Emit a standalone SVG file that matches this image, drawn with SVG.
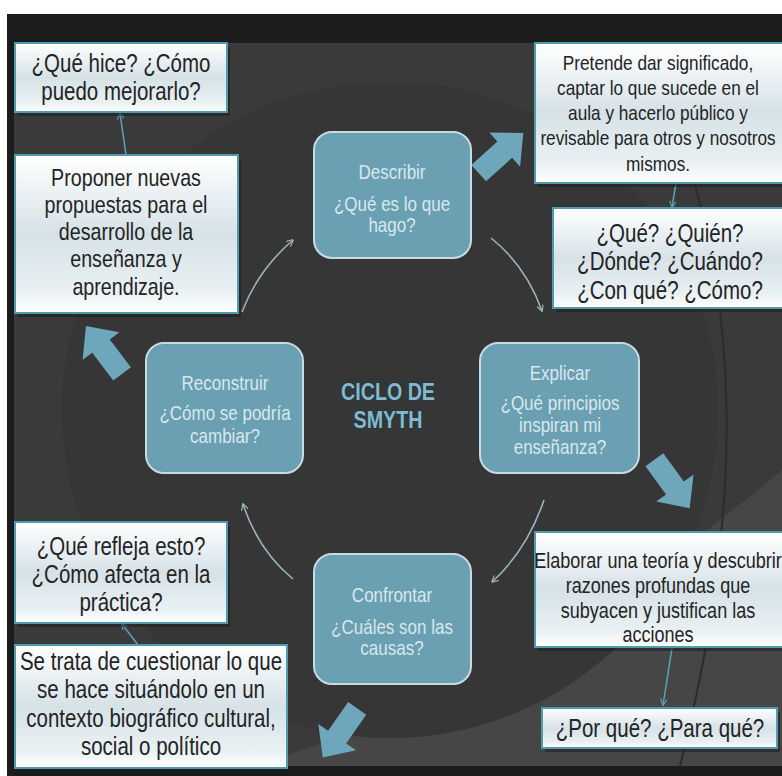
<svg xmlns="http://www.w3.org/2000/svg" width="782" height="776" viewBox="0 0 782 776">
<defs>
<linearGradient id="boxg" x1="0" y1="0" x2="0" y2="1">
<stop offset="0" stop-color="#ffffff"/>
<stop offset="0.5" stop-color="#d6e2e7"/>
<stop offset="0.85" stop-color="#e8f0f2"/>
<stop offset="1" stop-color="#ffffff"/>
</linearGradient>
<path id="blk" d="M -30 -11 L 5 -11 L 5 -23 L 30 0 L 5 23 L 5 11 L -30 11 Z"/>
<marker id="ah" viewBox="0 0 10 10" refX="9" refY="5" markerWidth="7" markerHeight="7" orient="auto" markerUnits="userSpaceOnUse">
<path d="M 0 0 L 10 5 L 0 10" fill="none" stroke="#9db3bb" stroke-width="1.6"/>
</marker>
<marker id="ah2" viewBox="0 0 10 10" refX="9" refY="5" markerWidth="7" markerHeight="7" orient="auto" markerUnits="userSpaceOnUse">
<path d="M 0 0 L 10 5 L 0 10" fill="none" stroke="#5a9fb4" stroke-width="1.6"/>
</marker>
</defs>
<style>
.box{fill:url(#boxg);stroke:#4f9cae;stroke-width:2}
.shadow{fill:#1f1f1f;opacity:0.6}
.bt{font-family:"Liberation Sans",Arial,sans-serif;fill:#242424;text-anchor:middle}
.node{fill:#6b9fb2;stroke:#c6dbe2;stroke-width:2}
.nt{font-family:"Liberation Sans",Arial,sans-serif;fill:#d8e8ee;text-anchor:middle;font-size:20px}
.cyc{fill:none;stroke:#9db3bb;stroke-width:1.6;marker-end:url(#ah)}
.lnk{fill:none;stroke:#5a9fb4;stroke-width:1.6;marker-end:url(#ah2)}
.big{fill:#6ea7bc}
.ttl{font-family:"Liberation Sans",Arial,sans-serif;font-weight:bold;font-size:24px;fill:#86b8ca;stroke:#1f3a44;stroke-width:2;paint-order:stroke fill;text-anchor:middle}
</style>
<rect x="0" y="0" width="782" height="776" fill="#ffffff"/>
<rect x="7" y="14" width="775" height="762" fill="#1c1c1c"/>
<rect x="14" y="43" width="768" height="723" fill="#3a3a3a"/>
<path d="M 250 766 Q 520 690 782 470 L 782 766 Z" fill="#464646"/>
<circle cx="390" cy="410" r="328" fill="#363636"/>
<rect x="14" y="14" width="768" height="29" fill="#1c1c1c"/>
<path d="M 695 185 Q 765 430 680 766" fill="none" stroke="#2c2c2c" stroke-width="2"/>

<g id="connectors">
<path class="cyc" d="M 242 312 Q 258 270 293 240"/>
<path class="cyc" d="M 491 238 Q 526 266 542 311"/>
<path class="cyc" d="M 544 500 Q 527 550 492 582"/>
<path class="cyc" d="M 293 579 Q 258 550 243 504"/>
<path class="lnk" d="M 676 183 L 672 207"/>
<path class="lnk" d="M 672 648 L 663 705"/>
<path class="lnk" d="M 126 155 L 120 113"/>
<path class="lnk" d="M 138 645 L 122 624"/>
<use href="#blk" class="big" transform="translate(501,153) rotate(-42)"/>
<use href="#blk" class="big" transform="translate(104,350) rotate(-127)"/>
<use href="#blk" class="big" transform="translate(672,484) rotate(54)"/>
<use href="#blk" class="big" transform="translate(340,733) rotate(125)"/>
</g>

<g id="box1">
<rect class="shadow" x="18" y="47" width="212" height="69"/>
<rect class="box" x="15" y="43" width="212" height="69"/>
<g transform="translate(121 0) scale(0.82 1)">
<text class="bt" font-size="25" x="0" y="72">¿Qué hice? ¿Cómo</text>
<text class="bt" font-size="25" x="0" y="100">puedo mejorarlo?</text>
</g>
</g>
<g id="box2">
<rect class="shadow" x="538" y="47" width="247" height="140"/>
<rect class="box" x="535" y="43" width="249" height="140"/>
<g transform="translate(658 0) scale(0.82 1)">
<text class="bt" font-size="21" x="0" y="70">Pretende dar significado,</text>
<text class="bt" font-size="21" x="0" y="95">captar lo que sucede en el</text>
<text class="bt" font-size="21" x="0" y="120">aula y hacerlo público y</text>
<text class="bt" font-size="21" x="0" y="145">revisable para otros y nosotros</text>
<text class="bt" font-size="21" x="0" y="171">mismos.</text>
</g>
</g>
<g id="box3">
<rect class="shadow" x="18" y="159" width="223" height="158"/>
<rect class="box" x="15" y="155" width="223" height="158"/>
<g transform="translate(126 0) scale(0.82 1)">
<text class="bt" font-size="24" x="0" y="186">Proponer nuevas</text>
<text class="bt" font-size="24" x="0" y="213">propuestas para el</text>
<text class="bt" font-size="24" x="0" y="240">desarrollo de la</text>
<text class="bt" font-size="24" x="0" y="267">enseñanza y</text>
<text class="bt" font-size="24" x="0" y="295">aprendizaje.</text>
</g>
</g>
<g id="box4">
<rect class="shadow" x="556" y="212" width="229" height="100"/>
<rect class="box" x="553" y="208" width="231" height="100"/>
<g transform="translate(670 0) scale(0.82 1)">
<text class="bt" font-size="25" x="0" y="242">¿Qué? ¿Quién?</text>
<text class="bt" font-size="25" x="0" y="270">¿Dónde? ¿Cuándo?</text>
<text class="bt" font-size="25" x="0" y="299">¿Con qué? ¿Cómo?</text>
</g>
</g>
<g id="box5">
<rect class="shadow" x="18" y="526" width="212" height="101"/>
<rect class="box" x="15" y="522" width="212" height="101"/>
<g transform="translate(121 0) scale(0.82 1)">
<text class="bt" font-size="25" x="0" y="555">¿Qué refleja esto?</text>
<text class="bt" font-size="25" x="0" y="583">¿Cómo afecta en la</text>
<text class="bt" font-size="25" x="0" y="611">práctica?</text>
</g>
</g>
<g id="box6">
<rect class="shadow" x="538" y="536" width="247" height="115"/>
<rect class="box" x="535" y="532" width="249" height="115"/>
<g transform="translate(658 0) scale(0.82 1)">
<text class="bt" font-size="22" x="0" y="568">Elaborar una teoría y descubrir</text>
<text class="bt" font-size="22" x="0" y="593">razones profundas que</text>
<text class="bt" font-size="22" x="0" y="618">subyacen y justifican las</text>
<text class="bt" font-size="22" x="0" y="642">acciones</text>
</g>
</g>
<g id="box7">
<rect class="box" x="15" y="645" width="272" height="123"/>
<g transform="translate(151 0) scale(0.82 1)">
<text class="bt" font-size="25" x="0" y="670">Se trata de cuestionar lo que</text>
<text class="bt" font-size="25" x="0" y="698">se hace situándolo en un</text>
<text class="bt" font-size="25" x="0" y="727">contexto biográfico cultural,</text>
<text class="bt" font-size="25" x="0" y="755">social o político</text>
</g>
</g>
<g id="box8">
<rect class="shadow" x="545" y="712" width="235" height="40"/>
<rect class="box" x="542" y="708" width="235" height="40"/>
<g transform="translate(660 0) scale(0.82 1)">
<text class="bt" font-size="25" x="0" y="737">¿Por qué? ¿Para qué?</text>
</g>
</g>

<g id="describir">
<rect class="node" x="314" y="132" width="157" height="126" rx="18"/>
<g transform="translate(392 0) scale(0.85 1)">
<text class="nt" x="0" y="179">Describir</text>
<text class="nt" x="0" y="211">¿Qué es lo que</text>
<text class="nt" x="0" y="232">hago?</text>
</g>
</g>
<g id="reconstruir">
<rect class="node" x="146" y="343" width="157" height="130" rx="18"/>
<g transform="translate(225 0) scale(0.85 1)">
<text class="nt" x="0" y="390">Reconstruir</text>
<text class="nt" x="0" y="420">¿Cómo se podría</text>
<text class="nt" x="0" y="443">cambiar?</text>
</g>
</g>
<g id="explicar">
<rect class="node" x="480" y="343" width="159" height="130" rx="18"/>
<g transform="translate(560 0) scale(0.85 1)">
<text class="nt" x="0" y="380">Explicar</text>
<text class="nt" x="0" y="410">¿Qué principios</text>
<text class="nt" x="0" y="432">inspiran mi</text>
<text class="nt" x="0" y="454">enseñanza?</text>
</g>
</g>
<g id="confrontar">
<rect class="node" x="314" y="554" width="157" height="130" rx="18"/>
<g transform="translate(392 0) scale(0.85 1)">
<text class="nt" x="0" y="602">Confrontar</text>
<text class="nt" x="0" y="634">¿Cuáles son las</text>
<text class="nt" x="0" y="655">causas?</text>
</g>
</g>
<g id="title" transform="translate(388 0) scale(0.82 1)">
<text class="ttl" x="0" y="400">CICLO DE</text>
<text class="ttl" x="0" y="428">SMYTH</text>
</g>
</svg>
